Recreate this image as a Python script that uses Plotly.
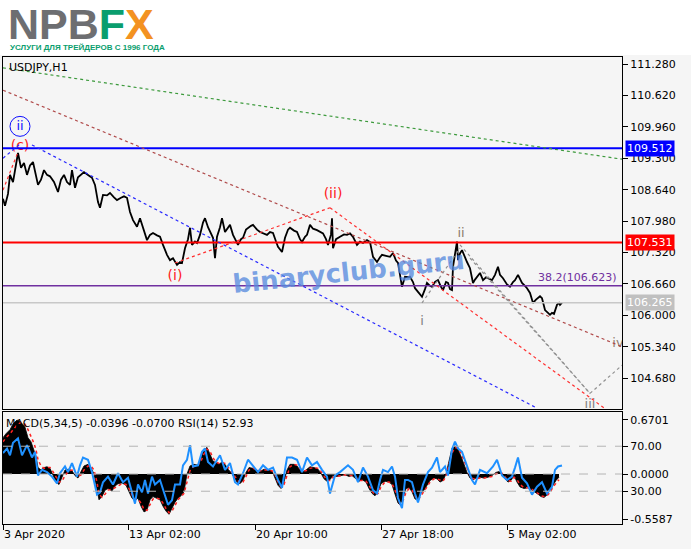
import plotly.graph_objects as go

# ---------------- data ----------------
price_ticks = [111.28, 110.62, 109.96, 109.30, 108.64, 107.98, 107.32, 106.66, 106.00, 105.34, 104.68]
date_ticks_bar = [3, 128, 255, 381, 507]
date_ticks_text = ["3 Apr 2020", "13 Apr 02:00", "20 Apr 10:00", "27 Apr 18:00", "5 May 02:00"]

price_bars = [3, 5, 8, 10, 13, 16, 18, 21, 24, 27,
              30, 33, 36, 38, 41, 44, 47, 50, 54, 58,
              61, 64, 67, 70, 72, 75, 78, 81, 84, 88,
              92, 95, 98, 100, 103, 107, 110, 114, 117, 121,
              124, 127, 130, 133, 137, 140, 143, 147, 150, 153,
              157, 160, 163, 167, 170, 173, 177, 180, 182, 185,
              188, 190, 192, 195, 197, 200, 203, 205, 208, 210,
              213, 215, 217, 220, 222, 225, 228, 230, 233, 236,
              238, 241, 243, 246, 248, 251, 253, 257, 260, 264,
              267, 270, 273, 276, 278, 282, 285, 288, 290, 294,
              297, 300, 302, 305, 307, 310, 313, 317, 320, 323,
              326, 328, 331, 332, 333, 336, 340, 344, 347, 350,
              353, 357, 360, 363, 367, 370, 373, 377, 380, 382,
              386, 390, 393, 396, 398, 400, 402, 405, 408, 410,
              413, 415, 418, 422, 425, 427, 430, 432, 435, 438,
              441, 443, 446, 448, 450, 452, 453, 455, 457, 458,
              460, 462, 465, 467, 470, 473, 475, 477, 480, 483,
              486, 488, 492, 495, 498, 500, 503, 507, 510, 513,
              515, 518, 520, 522, 525, 527, 530, 533, 536, 538,
              540, 542, 545, 548, 550, 552, 554, 557, 559, 560,
              562]
price_close = [108.45, 108.30, 108.55, 108.95, 108.80, 109.15, 109.41, 109.10, 109.20, 108.95,
               109.15, 109.22, 108.90, 108.74, 108.85, 109.05, 108.95, 108.92, 108.80, 108.59,
               108.85, 108.95, 108.80, 108.74, 109.05, 108.68, 108.90, 108.95, 109.01, 108.95,
               108.89, 108.74, 108.38, 108.26, 108.53, 108.52, 108.57, 108.48, 108.42, 108.47,
               108.50, 108.47, 108.17, 108.00, 107.86, 108.04, 107.84, 107.58, 107.69, 107.73,
               107.68, 107.65, 107.48, 107.27, 107.16, 107.20, 107.06, 107.12, 107.10, 107.41,
               107.60, 107.84, 107.48, 107.55, 107.52, 107.69, 107.95, 108.04, 107.85, 107.75,
               107.63, 107.20, 107.65, 107.85, 108.04, 107.75, 107.85, 107.90, 107.69, 107.55,
               107.48, 107.60, 107.63, 107.80, 107.84, 107.88, 107.90, 107.80, 107.75, 107.72,
               107.69, 107.75, 107.73, 107.55, 107.44, 107.33, 107.63, 107.80, 107.84, 107.78,
               107.75, 107.60, 107.54, 107.65, 107.69, 107.90, 107.82, 107.79, 107.75, 107.72,
               107.60, 107.48, 107.70, 108.04, 107.41, 107.60, 107.65, 107.70, 107.69, 107.72,
               107.65, 107.48, 107.55, 107.52, 107.58, 107.54, 107.23, 107.12, 107.22, 107.27,
               107.25, 107.23, 107.31, 107.15, 107.10, 106.89, 106.60, 106.81, 106.80, 106.81,
               106.70, 106.57, 106.50, 106.39, 106.55, 106.68, 106.62, 106.60, 106.70, 106.74,
               106.60, 106.53, 106.70, 106.68, 106.55, 106.53, 107.02, 107.30, 107.55, 107.16,
               107.30, 107.37, 107.20, 107.12, 106.99, 106.68, 106.75, 106.81, 106.89, 106.74,
               106.80, 106.78, 106.74, 106.85, 107.02, 106.85, 106.78, 106.65, 106.60, 106.70,
               106.74, 106.85, 106.78, 106.68, 106.62, 106.57, 106.47, 106.26, 106.33, 106.36,
               106.40, 106.36, 106.11, 106.05, 106.01, 106.05, 106.03, 106.22, 106.26, 106.22,
               106.265]

macd_bars = [3, 6, 10, 13, 17, 21, 25, 28, 31, 34,
             36, 38, 41, 44, 47, 50, 53, 56, 59, 62,
             65, 69, 72, 75, 78, 81, 84, 88, 91, 94,
             97, 99, 102, 105, 108, 112, 115, 118, 122, 126,
             129, 132, 135, 138, 141, 144, 147, 150, 153, 156,
             160, 163, 166, 169, 172, 175, 178, 181, 184, 187,
             190, 194, 198, 201, 204, 207, 210, 213, 216, 219,
             222, 225, 228, 231, 234, 237, 240, 243, 246, 249,
             253, 256, 260, 264, 268, 272, 275, 278, 281, 284,
             287, 290, 294, 297, 300, 303, 306, 310, 314, 318,
             321, 324, 327, 330, 333, 337, 341, 345, 349, 352,
             356, 359, 362, 366, 369, 372, 375, 378, 381, 385,
             389, 392, 395, 398, 400, 403, 406, 409, 412, 415,
             418, 421, 424, 427, 430, 434, 437, 440, 443, 446,
             449, 452, 455, 458, 461, 464, 467, 470, 473, 476,
             480, 484, 488, 492, 496, 499, 502, 505, 508, 511,
             514, 517, 520, 524, 528, 532, 535, 538, 541, 544,
             547, 550, 553, 556, 559]
macd_main = [0.45, 0.50, 0.55, 0.62, 0.67, 0.64, 0.58, 0.45, 0.40, 0.30,
             0.22, 0.08, 0.05, 0.08, 0.09, 0.07, -0.02, -0.10, -0.13, -0.03,
             0.05, 0.06, 0.04, -0.02, -0.05, 0.03, 0.10, 0.12, 0.08, 0.00,
             -0.22, -0.32, -0.28, -0.20, -0.18, -0.21, -0.15, -0.12, -0.11, -0.14,
             -0.22, -0.30, -0.33, -0.30, -0.40, -0.47, -0.45, -0.32, -0.28, -0.30,
             -0.32, -0.40, -0.46, -0.50, -0.43, -0.35, -0.30, -0.27, -0.22, 0.00,
             0.10, 0.12, 0.11, 0.20, 0.30, 0.33, 0.24, 0.16, 0.14, 0.12,
             0.15, 0.12, 0.06, 0.02, -0.04, -0.10, -0.12, -0.08, 0.02, 0.08,
             0.07, 0.05, 0.03, 0.06, 0.05, 0.04, -0.05, -0.14, -0.18, -0.10,
             0.05, 0.12, 0.12, 0.10, 0.05, 0.03, 0.05, 0.09, 0.08, 0.06,
             0.01, -0.06, -0.09, -0.07, -0.02, -0.03, -0.02, -0.01, -0.03, -0.02,
             -0.06, -0.09, -0.07, -0.10, -0.18, -0.24, -0.27, -0.22, -0.12, -0.09,
             -0.10, -0.13, -0.25, -0.36, -0.38, -0.30, -0.18, -0.17, -0.22, -0.31,
             -0.32, -0.24, -0.20, -0.14, -0.08, -0.05, -0.06, -0.10, -0.08, 0.00,
             0.18, 0.32, 0.35, 0.30, 0.22, 0.12, 0.02, -0.05, -0.07, -0.05,
             -0.04, -0.05, -0.04, -0.02, 0.02, 0.03, 0.00, -0.06, -0.10, -0.08,
             -0.02, -0.10, -0.16, -0.18, -0.17, -0.20, -0.22, -0.25, -0.28, -0.29,
             -0.26, -0.20, -0.13, -0.08, -0.0396]
macd_signal = [0.40, 0.45, 0.50, 0.55, 0.61, 0.64, 0.62, 0.55, 0.47, 0.38,
               0.30, 0.18, 0.10, 0.07, 0.08, 0.08, 0.03, -0.04, -0.10, -0.09,
               -0.02, 0.04, 0.05, 0.02, -0.03, -0.01, 0.05, 0.10, 0.10, 0.05,
               -0.10, -0.25, -0.29, -0.25, -0.20, -0.19, -0.17, -0.14, -0.12, -0.13,
               -0.18, -0.26, -0.31, -0.31, -0.36, -0.44, -0.45, -0.38, -0.31, -0.30,
               -0.31, -0.36, -0.43, -0.48, -0.46, -0.39, -0.32, -0.28, -0.24, -0.10,
               0.04, 0.10, 0.11, 0.16, 0.25, 0.31, 0.28, 0.20, 0.15, 0.13,
               0.14, 0.13, 0.09, 0.04, -0.01, -0.07, -0.11, -0.10, -0.03, 0.05,
               0.07, 0.06, 0.04, 0.05, 0.05, 0.04, -0.01, -0.10, -0.16, -0.13,
               -0.02, 0.09, 0.12, 0.11, 0.07, 0.04, 0.04, 0.07, 0.08, 0.07,
               0.03, -0.03, -0.08, -0.08, -0.04, -0.03, -0.02, -0.01, -0.02, -0.02,
               -0.04, -0.08, -0.08, -0.09, -0.14, -0.21, -0.26, -0.24, -0.16, -0.10,
               -0.10, -0.12, -0.20, -0.31, -0.37, -0.33, -0.23, -0.18, -0.20, -0.27,
               -0.32, -0.27, -0.22, -0.16, -0.10, -0.06, -0.06, -0.08, -0.09, -0.03,
               0.10, 0.26, 0.33, 0.32, 0.26, 0.16, 0.06, -0.02, -0.06, -0.06,
               -0.05, -0.05, -0.04, -0.03, 0.00, 0.02, 0.01, -0.04, -0.08, -0.09,
               -0.04, -0.07, -0.13, -0.17, -0.17, -0.19, -0.21, -0.24, -0.27, -0.28,
               -0.27, -0.23, -0.16, -0.11, -0.07]

rsi_bars = [3, 7, 10, 13, 18, 22, 27, 32, 35, 38,
            42, 47, 52, 57, 60, 65, 68, 72, 77, 80,
            83, 88, 92, 97, 100, 103, 108, 113, 118, 123,
            128, 132, 135, 138, 142, 145, 148, 152, 155, 160,
            165, 168, 172, 175, 180, 183, 187, 190, 193, 198,
            202, 205, 208, 213, 220, 225, 230, 235, 238, 243,
            248, 253, 258, 263, 268, 273, 278, 282, 287, 292,
            297, 302, 307, 312, 317, 322, 327, 330, 335, 340,
            345, 348, 353, 358, 363, 368, 373, 377, 380, 383,
            388, 392, 395, 398, 402, 405, 408, 412, 415, 418,
            423, 428, 432, 437, 440, 445, 448, 452, 455, 458,
            462, 467, 472, 475, 480, 487, 493, 497, 502, 507,
            512, 515, 518, 522, 527, 532, 537, 542, 547, 552,
            555, 558, 562]
rsi_vals = [64, 68, 62, 73, 77, 62, 71, 60, 65, 44,
            49, 47, 43, 37, 46, 52, 47, 55, 43, 53,
            60, 58, 47, 27, 29, 38, 43, 36, 46, 38,
            42, 29, 19, 36, 29, 40, 28, 43, 36, 40,
            27, 18, 22, 36, 36, 53, 58, 71, 52, 53,
            65, 68, 56, 52, 62, 49, 55, 38, 36, 46,
            58, 52, 47, 53, 49, 51, 40, 33, 60, 60,
            58, 47, 60, 53, 56, 49, 43, 28, 44, 47,
            51, 53, 49, 38, 51, 43, 31, 28, 40, 49,
            47, 52, 43, 24, 15, 40, 40, 38, 28, 20,
            36, 47, 51, 60, 47, 52, 44, 67, 74, 68,
            65, 53, 40, 36, 49, 46, 52, 58, 44, 40,
            43, 51, 60, 42, 37, 27, 34, 38, 28, 34,
            49, 52, 52.93]

# levels
level_blue = 109.512
level_red = 107.531
level_fib = 106.623
last_price = 106.265

# trend / wave lines: (bar0, price0, bar1, price1, colour)
trend_lines = [
    (3, 111.20, 622, 109.28, "#3c9a3c"),     # green channel
    (3, 110.73, 622, 105.34, "#b04a4a"),     # brown channel
    (32, 109.58, 537, 104.05, "#2828ff"),    # blue trend
    (3, 109.30, 20, 109.60, "#2828ff"),
    (3, 108.63, 18, 109.43, "#ff3030"),
    (175, 107.10, 330, 108.26, "#ff3030"),   # (i)->(ii)
    (330, 108.26, 607, 104.01, "#ff3030"),   # (ii)-> down
    (422, 106.26, 460, 107.41, "#909090"),   # i -> ii
    (460, 107.48, 590, 104.36, "#909090"),   # ii -> iii
    (470, 107.20, 590, 104.36, "#909090"),
    (590, 104.36, 622, 104.95, "#909090"),   # iii -> iv
]

wave_labels = [
    ("(c)", 20, 109.54, "#ff2020", 14),
    ("(i)", 175, 106.81, "#ff2020", 14),
    ("(ii)", 333, 108.53, "#ff2020", 14),
    ("i", 422, 105.86, "#808080", 13),
    ("ii", 461, 107.71, "#8c7a6c", 13),
    ("iii", 590, 104.12, "#808080", 13),
    ("iv", 618, 105.41, "#908070", 13),
]
circled_label = ("ii", 20, 109.97)

# ---------------- figure geometry helpers (layout only) ----------------
W, H = 691, 549
ML, MR, MT, MB = 3, 69, 57, 25
PH = H - MT - MB
PW = W - ML - MR


def py(ypx):
    return (H - MB - ypx) / PH


def pxp(xpx):
    return (xpx - ML) / PW


FONT = "DejaVu Sans"

fig = go.Figure()

# price
fig.add_trace(go.Scatter(x=price_bars, y=price_close, mode="lines",
                         line=dict(color="black", width=1.8),
                         xaxis="x", yaxis="y", showlegend=False, hoverinfo="skip"))

# MACD histogram
fig.add_trace(go.Scatter(x=macd_bars, y=macd_main, mode="lines", fill="tozeroy",
                         fillcolor="black", line=dict(color="black", width=0.8),
                         xaxis="x2", yaxis="y2", showlegend=False, hoverinfo="skip"))
fig.add_trace(go.Scatter(x=macd_bars, y=macd_signal, mode="lines",
                         line=dict(color="#ff2020", width=1.5, dash="dot"),
                         xaxis="x2", yaxis="y2", showlegend=False, hoverinfo="skip"))
fig.add_trace(go.Scatter(x=rsi_bars, y=rsi_vals, mode="lines",
                         line=dict(color="#1e90ff", width=2),
                         xaxis="x2", yaxis="y3", showlegend=False, hoverinfo="skip"))

# wave labels (clipped to plot area)
for txt, b, p, col, sz in wave_labels:
    fig.add_trace(go.Scatter(x=[b], y=[p], mode="text", text=[txt],
                             textfont=dict(color=col, size=sz, family=FONT),
                             xaxis="x", yaxis="y", showlegend=False, hoverinfo="skip",
                             cliponaxis=True))
fig.add_trace(go.Scatter(x=[circled_label[1]], y=[circled_label[2]], mode="text",
                         text=[circled_label[0]],
                         textfont=dict(color="#1010ff", size=13, family=FONT),
                         xaxis="x", yaxis="y", showlegend=False, hoverinfo="skip"))

shapes = []
# background for logo area
shapes.append(dict(type="rect", xref="paper", yref="paper", x0=pxp(0), x1=pxp(W),
                   y0=py(55), y1=py(0), fillcolor="white", line=dict(width=0), layer="below"))
# horizontal levels
for lvl, col, wdt in [(last_price, "#c8c8c8", 1.5), (level_fib, "#7030a0", 1.5),
                      (level_red, "#ff0000", 2), (level_blue, "#0000ff", 2)]:
    shapes.append(dict(type="line", xref="x domain", yref="y", x0=0, x1=1, y0=lvl, y1=lvl,
                       line=dict(color=col, width=wdt)))
# trend lines
for b0, p0, b1, p1, col in trend_lines:
    shapes.append(dict(type="line", xref="x", yref="y", x0=b0, y0=p0, x1=b1, y1=p1,
                       line=dict(color=col, width=1.2, dash="dot")))
# circle around ii
cb, cp = circled_label[1], circled_label[2]
shapes.append(dict(type="circle", xref="x", yref="y", x0=cb - 10, x1=cb + 10,
                   y0=cp - 0.21, y1=cp + 0.21, line=dict(color="#1010ff", width=1)))
# MACD panel levels
shapes.append(dict(type="line", xref="x2 domain", yref="y3", x0=0, x1=1, y0=70, y1=70,
                   line=dict(color="#b4b4b4", width=1, dash="dash")))
shapes.append(dict(type="line", xref="x2 domain", yref="y3", x0=0, x1=1, y0=30, y1=30,
                   line=dict(color="#b4b4b4", width=1, dash="dash")))
shapes.append(dict(type="line", xref="x2 domain", yref="y2", x0=0, x1=1, y0=0, y1=0,
                   line=dict(color="#b4b4b4", width=1, dash="dash")))

annotations = []
# logo
annotations.append(dict(xref="paper", yref="paper", x=pxp(6), y=py(24), xanchor="left",
                        yanchor="middle", showarrow=False,
                        text="<b><span style='color:#6d6e71'>NPB</span>"
                             "<span style='color:#0a9e6e'>F</span>"
                             "<span style='color:#f39221'>X</span></b>",
                        font=dict(family="Liberation Sans", size=43)))
annotations.append(dict(xref="paper", yref="paper", x=pxp(8), y=py(47), xanchor="left",
                        yanchor="middle", showarrow=False,
                        text="<b>УСЛУГИ ДЛЯ ТРЕЙДЕРОВ С 1996 ГОДА</b>",
                        font=dict(family="Liberation Sans", size=8, color="#0a9e6e")))
# symbol
annotations.append(dict(xref="paper", yref="paper", x=pxp(7), y=py(67), xanchor="left",
                        yanchor="middle", showarrow=False, text="USDJPY,H1",
                        font=dict(family=FONT, size=11, color="black")))
annotations.append(dict(xref="paper", yref="paper", x=pxp(4), y=py(423), xanchor="left",
                        yanchor="middle", showarrow=False,
                        text="MACD(5,34,5) -0.0396 -0.0700 RSI(14) 52.93",
                        font=dict(family=FONT, size=11, color="black")))
# fib label
annotations.append(dict(xref="x", yref="y", x=619, y=level_fib, xanchor="right",
                        yanchor="bottom", yshift=0, showarrow=False,
                        text="38.2(106.623)", font=dict(family=FONT, size=11, color="#7030a0")))
# watermark
annotations.append(dict(xref="x", yref="y", x=348, y=106.92, showarrow=False,
                        text="<b>binaryclub.guru</b>", textangle=-6,
                        font=dict(family=FONT, size=26, color="rgba(90,140,222,0.8)")))
# price boxes on axis
for lvl, bg in [(level_blue, "#0000ff"), (level_red, "#ff0000"), (last_price, "#c0c0c0")]:
    annotations.append(dict(xref="paper", yref="y", x=1, y=lvl, xanchor="left", yanchor="middle",
                            xshift=3, showarrow=False, text=f"{lvl:.3f}", bgcolor=bg,
                            borderpad=1, font=dict(family=FONT, size=11, color="white")))

axis_common = dict(showgrid=False, zeroline=False, showline=True, mirror=True,
                   linecolor="black", linewidth=1)

fig.update_layout(
    width=W, height=H,
    margin=dict(l=ML, r=MR, t=MT, b=MB),
    paper_bgcolor="#f5f5f5", plot_bgcolor="#f5f5f5",
    font=dict(family=FONT, size=11, color="black"),
    showlegend=False,
    shapes=shapes, annotations=annotations,
    xaxis=dict(domain=[0, 1], anchor="y", range=[3, 622], showticklabels=False, ticks="",
               **axis_common),
    yaxis=dict(domain=[py(409), 1], anchor="x", side="right", range=[104.032, 111.427],
               tickvals=price_ticks, tickformat=".3f", ticks="outside", ticklen=5,
               tickcolor="black", tickfont=dict(size=11), **axis_common),
    xaxis2=dict(domain=[0, 1], anchor="y2", range=[3, 622], matches="x",
                tickvals=date_ticks_bar, ticktext=date_ticks_text, ticks="outside", ticklen=5,
                tickcolor="black", ticklabelposition="outside right", tickfont=dict(size=11),
                **axis_common),
    yaxis2=dict(domain=[0, py(412)], anchor="x2", side="right", range=[-0.62, 0.769],
                tickvals=[0.6701, 0.0, -0.5587], ticktext=["0.6701", "0.0000", "-0.5587"],
                ticks="outside", ticklen=5, tickcolor="black", **axis_common),
    yaxis3=dict(overlaying="y2", anchor="x2", side="right", range=[0.9, 100.4],
                tickvals=[70, 30], ticktext=["70.00", "30.00"], ticks="outside", ticklen=5,
                tickcolor="black", showgrid=False, zeroline=False, showline=False),
)

fig.write_html("out.html", config={"displayModeBar": False},
               post_script="document.body.style.margin='0';document.body.style.padding='0';")
